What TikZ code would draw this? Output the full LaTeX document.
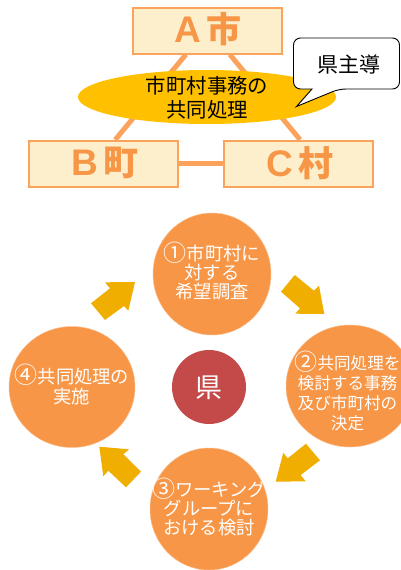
\documentclass[tikz,border=0pt]{standalone}
\usepackage{fontspec}
\newfontfamily\cjk{Noto Sans CJK JP}
\newfontfamily\latinbold{Liberation Sans}
\usetikzlibrary{shapes.geometric}
\definecolor{orangeline}{HTML}{F79646}
\definecolor{boxline}{HTML}{FBA25C}
\definecolor{boxfill}{HTML}{FDEFCC}
\definecolor{goldfill}{HTML}{FFC000}
\definecolor{arrowfill}{HTML}{EFAE00}
\definecolor{kenfill}{HTML}{C44A4A}
\newcommand{\townname}[2]{{\latinbold\bfseries\fontsize{37}{38}\selectfont #1}\hspace{5pt}#2}
\newcommand{\stepmark}[1]{{\fontsize{23}{18}\selectfont\raisebox{-.5pt}{#1}}}
\tikzset{
  town/.style={draw=boxline, line width=2pt, fill=boxfill, minimum width=149pt, minimum height=46pt, inner sep=0pt},
  townlabel/.style={text=orangeline, font=\cjk\bfseries\fontsize{35}{38}\selectfont, inner sep=0pt},
  link/.style={draw=boxline, line width=5pt},
  disc/.style={ellipse, fill=orangeline, draw=orangeline!60!white, line width=.5pt, inner sep=0pt},
  disclabel/.style={text=white, align=center, inner sep=0pt, font=\cjk\fontsize{18.3}{19}\selectfont},
  turn/.style={fill=arrowfill}
}
\begin{document}
\begin{tikzpicture}[x=1pt, y=-1pt]
  \useasboundingbox (0,0) rectangle (400,570);

  % the three towns
  \node [town] (cityA) at (207.5,30.5) {};
  \node [town] (townB) at (103,163.75) {};
  \node [town] (villageC) at (298,163.75) {};
  \draw [link] (cityA.-132) -- (townB.63);
  \draw [link] (cityA.-47) -- (villageC.85);
  \draw [link] (townB) -- (villageC);
  \node [townlabel] (cityAname) at (208,29) {\townname{A}{市}};
  \node [townlabel] (townBname) at (105,163) {\townname{B}{町}};
  \node [townlabel] (villageCname) at (300,163) {\townname{C}{村}};

  \node [ellipse, fill=goldfill, minimum width=258pt, minimum height=54pt, inner sep=0pt] (joint) at (207,97) {};
  \node [align=center, inner sep=0pt, font=\cjk\fontsize{20.4}{24}\selectfont] (jointname) at (207,98) {市町村事務の\\共同処理};

  \draw [fill=white, line width=.9pt, rounded corners=7pt]
    (312,89) -- (293.5,89) -- (293.5,38) -- (399.5,38) -- (399.5,89) -- (339,89)
    [sharp corners] -- (296.5,106.5) -- cycle;
  \node [inner sep=0pt, font=\cjk\fontsize{21}{24}\selectfont] (kenlead) at (348.5,64) {県主導};

  % the cycle
  \node [disc, minimum width=118pt, minimum height=122pt] (stepA) at (212,274) {};
  \node [disc, minimum width=128pt, minimum height=122pt] (stepB) at (350,386) {};
  \node [disc, minimum width=118pt, minimum height=122pt] (stepC) at (209,509) {};
  \node [disc, minimum width=126pt, minimum height=121pt] (stepD) at (72,387) {};
  \node [circle, fill=kenfill, minimum size=74pt, inner sep=0pt] (ken) at (209,387) {};

  \node [disclabel] (stepAname) at (212,271) {\stepmark{①}市町村に\\対する\\希望調査};
  \node [disclabel, font=\cjk\fontsize{16.6}{20}\selectfont] (stepBname) at (347.5,391) {\stepmark{②}共同処理を\\検討する事務\\及び市町村の\\決定};
  \node [disclabel] (stepCname) at (209,507) {\stepmark{③}ワーキング\\グループに\\おける検討};
  \node [disclabel, font=\cjk\fontsize{18.3}{20.5}\selectfont] (stepDname) at (72,385) {\stepmark{④}共同処理の\\実施};
  \node [text=white, inner sep=0pt, font=\cjk\fontsize{27}{30}\selectfont] (kenname) at (209,388) {県};

  \fill [turn] (105,282.3) -- (135,282) -- (128.3,310.7) -- (124,306) -- (105,320) -- (91,303.3) -- (110,288.3) -- cycle;
  \fill [turn] (294.7,275) -- (314,290.7) -- (319,285.7) -- (324.3,314) -- (295.3,313.7) -- (300,308.3) -- (281,291.7) -- cycle;
  \fill [turn] (306,443.7) -- (320,460.3) -- (300.7,475) -- (305.7,481.3) -- (275.7,481.7) -- (283.3,452.7) -- (287.7,458.3) -- cycle;
  \fill [turn] (99.3,446.7) -- (129,449.3) -- (123.3,454.3) -- (141,471.7) -- (126,487.3) -- (108.3,470.7) -- (103.3,476.3) -- cycle;
\end{tikzpicture}
\end{document}
